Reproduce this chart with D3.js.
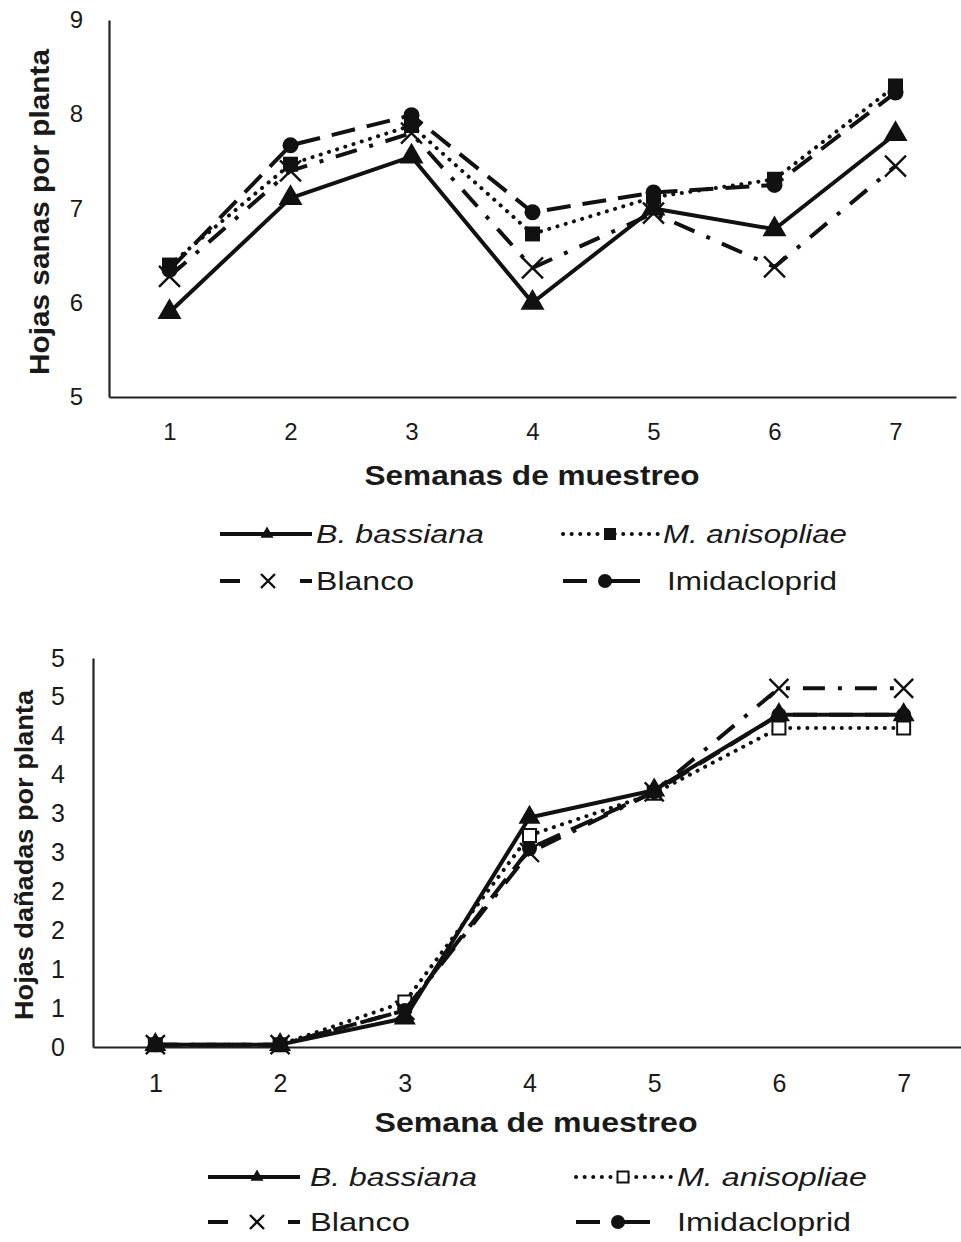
<!DOCTYPE html>
<html>
<head>
<meta charset="utf-8">
<script src="https://cdn.jsdelivr.net/npm/d3@7"></script>
<style>
  body { margin: 0; background: #fff; }
  svg { display: block; }
  text { font-family: "Liberation Sans", Arial, sans-serif; fill: #1a1a1a; }
</style>
</head>
<body>
<script>
// weeks of sampling (x categories)
const weeks = [1, 2, 3, 4, 5, 6, 7];
const seriesNames = ["B. bassiana", "M. anisopliae", "Blanco", "Imidacloprid"];

// healthy leaves per plant (top chart)
const sanasBassiana     = [5.9, 7.11, 7.55, 6.0, 7.0, 6.78, 7.79];
const sanasAnisopliae   = [6.4, 7.47, 7.88, 6.73, 7.12, 7.31, 8.3];
const sanasBlanco       = [6.28, 7.4, 7.8, 6.37, 6.95, 6.38, 7.45];
const sanasImidacloprid = [6.35, 7.67, 7.99, 6.96, 7.17, 7.25, 8.23];
const sanasTicks = [5, 6, 7, 8, 9];
const sanasTickLabels = ["5", "6", "7", "8", "9"];

// damaged leaves per plant (bottom chart)
const danBassiana     = [0.03, 0.03, 0.37, 2.95, 3.3, 4.27, 4.27];
const danAnisopliae   = [0.03, 0.03, 0.58, 2.72, 3.26, 4.1, 4.1];
const danBlanco       = [0.03, 0.03, 0.47, 2.5, 3.28, 4.61, 4.61];
const danImidacloprid = [0.03, 0.03, 0.47, 2.55, 3.28, 4.27, 4.27];
const danTicks = [0, 0.5, 1, 1.5, 2, 2.5, 3, 3.5, 4, 4.5, 5];
const danTickLabels = ["0", "1", "1", "2", "2", "3", "3", "4", "4", "5", "5"];

const styles = {
  "B. bassiana":   { dash: null,          cap: "butt",  marker: "triangle", legendDash: null },
  "M. anisopliae": { dash: "0.1,8.5",     cap: "round", marker: "square",   legendDash: "0.1,8.5" },
  "Blanco":        { dash: "22,13,4,13",  cap: "butt",  marker: "x",        legendDash: "20,60,14" },
  "Imidacloprid":  { dash: "24,12",       cap: "butt",  marker: "circle",   legendDash: "24,12,60" }
};

const svg = d3.select("body").append("svg")
    .attr("width", 961)
    .attr("height", 1242);

// s = side (triangle, square), diameter (circle) or span (x)
function drawMarker(g, type, cx, cy, s, openFill) {
  if (type === "x") {
    let h = s / 2;
    g.append("path")
      .attr("d", `M${cx - h},${cy - h}L${cx + h},${cy + h}M${cx - h},${cy + h}L${cx + h},${cy - h}`)
      .attr("stroke", "#111")
      .attr("stroke-width", 2.4)
      .attr("fill", "none");
    return;
  }
  let sym = { triangle: d3.symbolTriangle, square: d3.symbolSquare, circle: d3.symbolCircle }[type];
  let area = { triangle: s * s * Math.sqrt(3) / 4, square: s * s, circle: Math.PI * s * s / 4 }[type];
  g.append("path")
    .attr("d", d3.symbol().type(sym).size(area)())
    .attr("transform", `translate(${cx},${cy})`)
    .attr("fill", openFill ? "#fff" : "#111")
    .attr("stroke", "#111")
    .attr("stroke-width", openFill ? 2 : 0);
}

function drawChart(opt) {
  const g = svg.append("g");
  const x = d3.scalePoint().domain(weeks).range(opt.xRange).padding(0.5);
  const y = d3.scaleLinear().domain(opt.yDomain).range(opt.yRange);

  // x axis
  let xa = g.append("g")
    .attr("transform", `translate(0,${opt.yRange[0]})`)
    .call(d3.axisBottom(x).tickSize(0).tickSizeOuter(0).tickPadding(opt.xTickPad))
    .attr("font-family", null)
    .attr("font-size", opt.tickFont);
  xa.select(".domain").attr("stroke", "#222").attr("stroke-width", 2.2);

  // y axis
  let ya = g.append("g")
    .attr("transform", `translate(${opt.xRange[0]},0)`)
    .call(d3.axisLeft(y).tickValues(opt.ticks).tickFormat((d, i) => opt.tickLabels[i])
      .tickSize(0).tickSizeOuter(0).tickPadding(opt.yTickPad))
    .attr("font-family", null)
    .attr("font-size", opt.tickFont);
  ya.select(".domain").attr("stroke", "#222").attr("stroke-width", 2.2);
  g.selectAll(".tick text").attr("fill", "#1a1a1a");

  // axis titles
  g.append("text")
    .attr("x", opt.xTitle.x).attr("y", opt.xTitle.y)
    .attr("text-anchor", "middle")
    .attr("font-weight", "bold")
    .attr("font-size", opt.titleFont)
    .attr("textLength", opt.xTitle.len)
    .attr("lengthAdjust", "spacingAndGlyphs")
    .text(opt.xTitle.text);

  g.append("text")
    .attr("transform", `translate(${opt.yTitle.x},${opt.yTitle.y}) rotate(-90)`)
    .attr("text-anchor", "middle")
    .attr("font-weight", "bold")
    .attr("font-size", opt.yTitle.font)
    .attr("textLength", opt.yTitle.len)
    .attr("lengthAdjust", "spacingAndGlyphs")
    .text(opt.yTitle.text);

  const line = d3.line().x(d => x(d.week)).y(d => y(d.v));

  opt.series.forEach((vals, i) => {
    let name = seriesNames[i];
    let st = styles[name];
    let pts = weeks.map((w, j) => ({ week: w, v: vals[j] }));
    g.append("path")
      .datum(pts)
      .attr("d", line)
      .attr("fill", "none")
      .attr("stroke", "#111")
      .attr("stroke-width", 4)
      .attr("stroke-linecap", st.cap)
      .attr("stroke-linejoin", "round")
      .attr("stroke-dasharray", st.dash);
    let mg = g.append("g");
    pts.forEach(p => drawMarker(mg, st.marker, x(p.week), y(p.v), opt.markerSize[st.marker],
      opt.openSquare && st.marker === "square"));
  });

  // legend
  opt.legend.forEach((item, i) => {
    let name = seriesNames[i];
    let st = styles[name];
    let lg = g.append("g");
    lg.append("line")
      .attr("x1", item.x1).attr("x2", item.x2)
      .attr("y1", item.y).attr("y2", item.y)
      .attr("stroke", "#111")
      .attr("stroke-width", 4)
      .attr("stroke-linecap", st.cap)
      .attr("stroke-dasharray", st.legendDash);
    drawMarker(lg, st.marker, item.mx, item.y, opt.legendMarker[st.marker],
      opt.openSquare && st.marker === "square");
    lg.append("text")
      .attr("x", item.tx).attr("y", item.y)
      .attr("dy", "0.36em")
      .attr("font-size", opt.legendFont)
      .attr("font-style", i < 2 ? "italic" : null)
      .attr("textLength", item.tlen)
      .attr("lengthAdjust", "spacingAndGlyphs")
      .text(name);
  });
}

// top chart: healthy leaves
drawChart({
  xRange: [109, 956],
  yRange: [397, 20],
  yDomain: [5, 9],
  ticks: sanasTicks,
  tickLabels: sanasTickLabels,
  tickFont: 24,
  xTickPad: 26,
  yTickPad: 26,
  titleFont: 27,
  xTitle: { x: 532, y: 485, len: 335, text: "Semanas de muestreo" },
  yTitle: { x: 49, y: 212, len: 326, font: 28, text: "Hojas sanas por planta" },
  series: [sanasBassiana, sanasAnisopliae, sanasBlanco, sanasImidacloprid],
  markerSize: { triangle: 24, square: 15, circle: 16, x: 21 },
  legendMarker: { triangle: 13, square: 12, circle: 14, x: 14 },
  openSquare: false,
  legendFont: 26,
  legend: [
    { x1: 220, x2: 312, mx: 267, y: 534, tx: 316, tlen: 168 },
    { x1: 563, x2: 658, mx: 610, y: 534, tx: 663, tlen: 184 },
    { x1: 220, x2: 312, mx: 268, y: 581, tx: 316, tlen: 98 },
    { x1: 563, x2: 640, mx: 605, y: 581, tx: 667, tlen: 170 }
  ]
});

// bottom chart: damaged leaves
drawChart({
  xRange: [93, 966],
  yRange: [1047, 658],
  yDomain: [0, 5],
  ticks: danTicks,
  tickLabels: danTickLabels,
  tickFont: 25,
  xTickPad: 27,
  yTickPad: 28,
  titleFont: 27,
  xTitle: { x: 536, y: 1132, len: 323, text: "Semana de muestreo" },
  yTitle: { x: 33, y: 855, len: 330, font: 25, text: "Hojas dañadas por planta" },
  series: [danBassiana, danAnisopliae, danBlanco, danImidacloprid],
  markerSize: { triangle: 22, square: 13, circle: 15, x: 19 },
  legendMarker: { triangle: 13, square: 11, circle: 14, x: 14 },
  openSquare: true,
  legendFont: 26,
  legend: [
    { x1: 208, x2: 300, mx: 257, y: 1177, tx: 310, tlen: 167 },
    { x1: 576, x2: 672, mx: 623, y: 1177, tx: 677, tlen: 190 },
    { x1: 208, x2: 300, mx: 257, y: 1222, tx: 310, tlen: 100 },
    { x1: 576, x2: 650, mx: 618, y: 1222, tx: 677, tlen: 174 }
  ]
});
</script>
</body>
</html>
